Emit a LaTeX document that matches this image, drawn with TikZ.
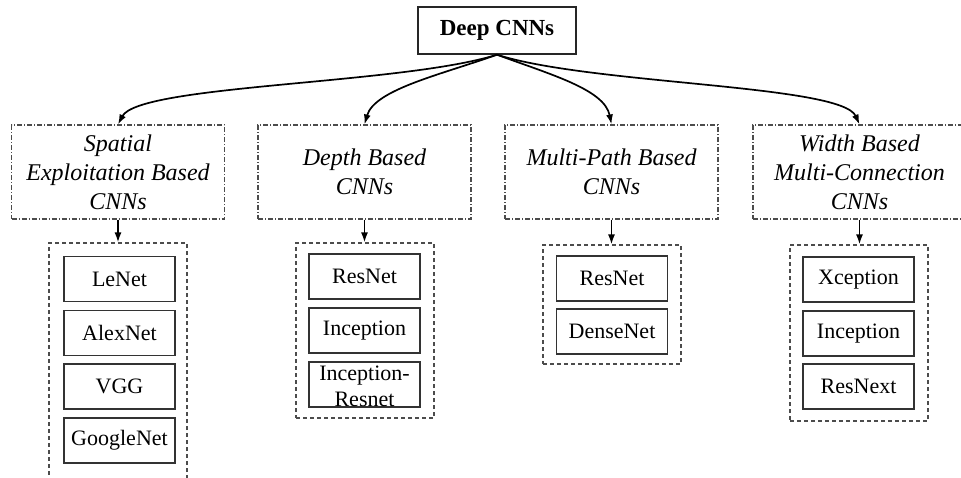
\documentclass[tikz,border=0pt]{standalone}
\usepackage{fontspec}
\setmainfont{Liberation Serif}
\usetikzlibrary{arrows.meta}
\begin{document}
\begin{tikzpicture}[x=1pt,y=-1pt,
  rootbox/.style={draw=black!85,line width=1.4pt,minimum width=158pt,minimum height=47pt,
    inner sep=0pt,font=\fontsize{23}{27}\selectfont\bfseries},
  catbox/.style={draw=black!70,line width=1.1pt,dash pattern=on 5pt off 2pt on 1pt off 2pt,
    minimum width=213pt,minimum height=94pt,inner sep=0pt,align=center,
    font=\fontsize{24}{29}\selectfont\itshape},
  groupbox/.style={draw=black!70,line width=1.1pt,dash pattern=on 4pt off 3pt,inner sep=0pt},
  netbox/.style={draw=black!80,line width=1.3pt,minimum width=111pt,minimum height=45pt,
    inner sep=0pt,font=\fontsize{22}{26}\selectfont},
  link/.style={line width=1.7pt,-{Latex[length=10pt,width=7pt]}}]
\useasboundingbox (0,0) rectangle (961,477);
\clip (0,0) rectangle (961,477);

% root
\node[rootbox] (root) at (497,30.5) {Deep CNNs};

% categories
\node[catbox] (c1) at (118,172) {Spatial\\Exploitation Based\\CNNs};
\node[catbox] (c2) at (364.5,172) {Depth Based\\CNNs};
\node[catbox] (c3) at (611.5,172) {Multi-Path Based\\CNNs};
\node[catbox] (c4) at (859.5,172) {Width Based\\Multi-Connection\\CNNs};

% group frames
\node[groupbox,minimum width=138pt,minimum height=280pt] (g1) at (118,383) {};
\node[groupbox,minimum width=138pt,minimum height=175pt] (g2) at (365,330.5) {};
\node[groupbox,minimum width=138pt,minimum height=119pt] (g3) at (612,304.5) {};
\node[groupbox,minimum width=138pt,minimum height=176pt] (g4) at (859,333) {};

% networks
\node[netbox] (n11) at (119.5,279) {LeNet};
\node[netbox] (n12) at (119.5,333) {AlexNet};
\node[netbox] (n13) at (119.5,386.5) {VGG};
\node[netbox] (n14) at (119.5,440.5) {GoogleNet};

\node[netbox] (n21) at (364.5,276.5) {ResNet};
\node[netbox] (n22) at (364.5,330.5) {Inception};
\node[netbox] (n23) at (364.5,384.5) {};
\node[align=center,inner sep=0pt,font=\fontsize{22}{26}\selectfont] (n23t) at (364.5,386) {Inception-\\Resnet};

\node[netbox] (n31) at (612,278.5) {ResNet};
\node[netbox] (n32) at (612,331.5) {DenseNet};

\node[netbox] (n41) at (858.5,279.5) {Xception};
\node[netbox] (n42) at (858.5,333.5) {Inception};
\node[netbox] (n43) at (858.5,386.5) {ResNext};

% curved connectors from the root
\coordinate (hub) at (root.south);
\draw[link] (hub) .. controls +(-96,30) and +(21,-40) .. (c1.north);
\draw[link] (hub) .. controls +(-56,20) and +(10,-35) .. (c2.north);
\draw[link] (hub) .. controls +(54,20) and +(-7,-35) .. (c3.north);
\draw[link] (hub) .. controls +(94,30) and +(-18,-40) .. (c4.north);

% straight connectors into the groups
\draw[link] (c1.south) -- (c1.south |- g1.north);
\draw[link] (c2.south) -- (c2.south |- g2.north);
\draw[link] (c3.south) -- (c3.south |- g3.north);
\draw[link] (c4.south) -- (c4.south |- g4.north);
\end{tikzpicture}
\end{document}
